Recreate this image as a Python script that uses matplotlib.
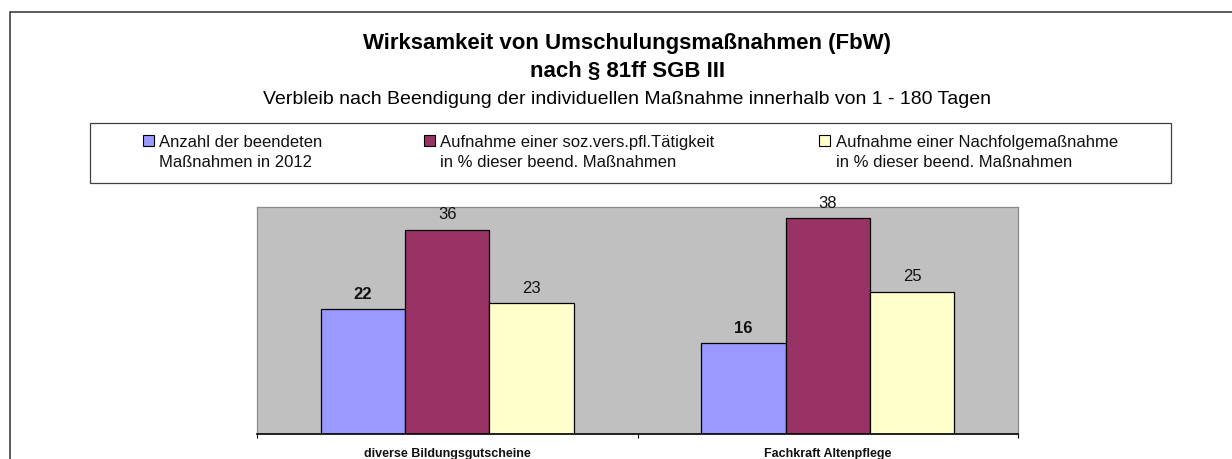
import matplotlib
matplotlib.use("Agg")
import matplotlib.pyplot as plt
from matplotlib.patches import Rectangle
import numpy as np

# ---------------- data ----------------
categories = ["diverse Bildungsgutscheine", "Fachkraft Altenpflege"]
series_names = [
    "Anzahl der beendeten\nMaßnahmen in 2012",
    "Aufnahme einer soz.vers.pfl.Tätigkeit\nin % dieser beend. Maßnahmen",
    "Aufnahme einer Nachfolgemaßnahme\nin % dieser beend. Maßnahmen",
]
anzahl = [22, 16]
sozvers = [36, 38]
nachfolge = [23, 25]

title_lines = ["Wirksamkeit von Umschulungsmaßnahmen (FbW)", "nach § 81ff SGB III"]
subtitle = "Verbleib nach Beendigung der individuellen Maßnahme innerhalb von 1 - 180 Tagen"

# ---------------- style ----------------
colors = ["#9999FF", "#993366", "#FFFFCC"]
label_weights = ["bold", "normal", "normal"]

W, H = 1232, 459
DPI = 100
plt.rcParams['font.family'] = ['Liberation Sans', 'DejaVu Sans']

fig = plt.figure(figsize=(W / DPI, H / DPI), dpi=DPI)
fig.patch.set_facecolor("white")


def fx(px):
    return px / W


def fy(py):
    return 1 - py / H


# outer chart frame (extends beyond right and bottom edge)
fig.patches.append(Rectangle((fx(10), fy(480)), fx(1250) - fx(10), fy(12) - fy(480),
                             transform=fig.transFigure, fill=False,
                             edgecolor="#404040", linewidth=1.2))

# titles
fig.text(fx(627), fy(49.3), title_lines[0], ha="center", va="baseline",
         fontsize=16, fontweight="bold", color="black")
fig.text(fx(627), fy(77.5), title_lines[1], ha="center", va="baseline",
         fontsize=16, fontweight="bold", color="black")
fig.text(fx(627), fy(104), subtitle, ha="center", va="baseline",
         fontsize=14, color="black")

# legend box
fig.patches.append(Rectangle((fx(90), fy(182.7)), fx(1171) - fx(90), fy(122.7) - fy(182.7),
                             transform=fig.transFigure, fill=True, facecolor="white",
                             edgecolor="#404040", linewidth=0.9))
legend_x = [143, 424, 819.3]
for lx, name, c in zip(legend_x, series_names, colors):
    fig.patches.append(Rectangle((fx(lx), fy(146)), fx(11), fy(135) - fy(146),
                                 transform=fig.transFigure, facecolor=c,
                                 edgecolor="black", linewidth=0.8))
    for k, line in enumerate(name.split("\n")):
        fig.text(fx(lx + 16.3), fy(146.7 + 20 * k), line, ha="left", va="baseline",
                 fontsize=12, color="#111111")

# plot area
ax = fig.add_axes([fx(257), fy(434), fx(1018) - fx(257), (434 - 207) / H])
ax.set_facecolor("#C0C0C0")
x = np.arange(len(categories))
width = 0.222
for i, (vals, c, wgt) in enumerate(zip([anzahl, sozvers, nachfolge], colors, label_weights)):
    bars = ax.bar(x + (i - 1) * width, vals, width, color=c, edgecolor="black",
                  linewidth=0.9, zorder=3)
    ax.bar_label(bars, padding=5.5, fontsize=12, fontweight=wgt, color="#111111")

ax.set_xlim(-0.5, 1.5)
ax.set_ylim(0, 40)
ax.set_yticks([])
for s in ["top", "right", "left"]:
    ax.spines[s].set_color("#8a8a8a")
    ax.spines[s].set_linewidth(0.9)
ax.spines["bottom"].set_color("black")
ax.spines["bottom"].set_linewidth(1.2)
ax.spines["bottom"].set_zorder(4)

ax.set_xticks(x)
ax.set_xticklabels(categories, fontsize=9, fontweight="bold", color="#111111")
ax.tick_params(axis="x", which="major", length=0, pad=10)
ax.set_xticks([-0.5, 0.5, 1.5], minor=True)
ax.tick_params(axis="x", which="minor", length=3, width=0.8, direction="out", color="black")

fig.savefig("out.png", dpi=DPI)
